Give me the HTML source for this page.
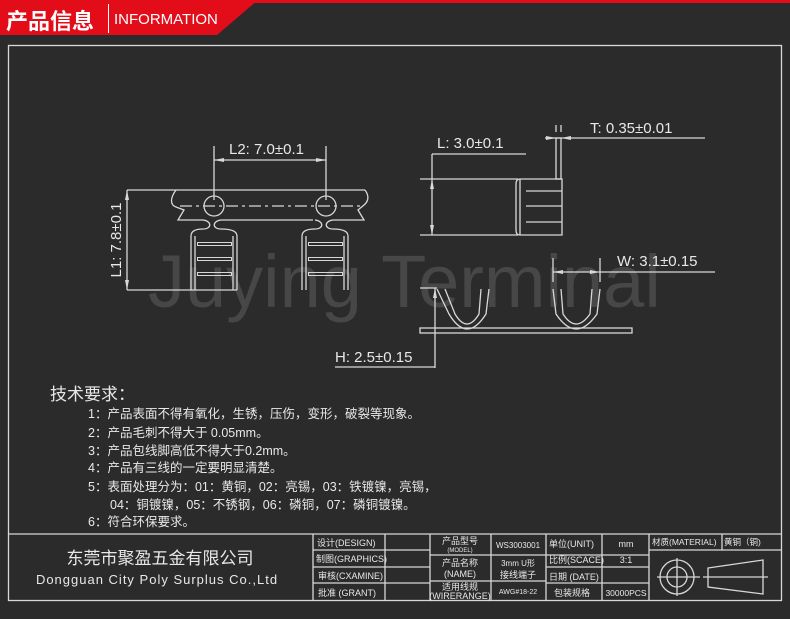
<!DOCTYPE html>
<html><head><meta charset="utf-8"><style>
html,body{margin:0;padding:0;background:#2b2b2b;}
svg{display:block}
text{font-family:"Liberation Sans","Noto Sans CJK SC",sans-serif;fill:#e8e8e8}
</style></head><body>
<svg width="790" height="619" viewBox="0 0 790 619" xmlns="http://www.w3.org/2000/svg">
<rect width="790" height="619" fill="#2b2b2b"/>
<text x="148" y="307" font-size="74" style="fill:#474747">Juying Terminal</text>
<rect x="0" y="0" width="790" height="3" fill="#e30d1a"/>
<polygon points="0,0 258,0 217,35 0,35" fill="#e30d1a"/>
<text x="6" y="29" font-size="22" font-weight="bold" style="fill:#fff">产品信息</text>
<rect x="108" y="4" width="1" height="29" fill="#fff"/>
<text x="114" y="24" font-size="15" style="fill:#fff">INFORMATION</text>
<g fill="none" stroke="#d8d8d8" stroke-width="1.3">
<rect x="8.5" y="45.5" width="773" height="555"/>
<line x1="214" y1="146" x2="214" y2="200"/><line x1="326" y1="146" x2="326" y2="200"/>
<line x1="214" y1="160" x2="326" y2="160"/>
<line x1="127" y1="190" x2="365" y2="190"/>
<path d="M176,190 C170,198 170,205 176,207 L184,210 L178,220 L203,220 M221,220 L313,220 M333,220 L364,220 L358,210 L364,205 C370,200 368,194 365,190"/>
<path d="M203,220 C212,221 212,229 203,229 Q191,229 191,236 L191,290 M221,220 C212,221 212,229 221,229 Q237,229 237,236 L237,290"/>
<path d="M315,220 C324,221 324,229 315,229 Q302,229 302,236 L302,290 M333,220 C324,221 324,229 333,229 Q348,229 348,236 L348,290"/>
<line x1="195" y1="236" x2="195" y2="290"/><line x1="233" y1="236" x2="233" y2="290"/>
<line x1="306" y1="236" x2="306" y2="290"/><line x1="344" y1="236" x2="344" y2="290"/>
<circle cx="214" cy="206" r="10"/><circle cx="326" cy="206" r="10"/>
<line x1="180" y1="206" x2="360" y2="206" stroke-dasharray="12 4 3 4"/>
<line x1="127" y1="290" x2="237" y2="290"/>
<line x1="127" y1="190" x2="127" y2="290"/>
<g stroke-width="1">
<rect x="197.5" y="242.5" width="34" height="3"/><rect x="197.5" y="257.5" width="34" height="3"/><rect x="197.5" y="272.5" width="34" height="3"/>
<rect x="308.5" y="242.5" width="34" height="3"/><rect x="308.5" y="257.5" width="34" height="3"/><rect x="308.5" y="272.5" width="34" height="3"/>
</g>
<line x1="555" y1="138" x2="705" y2="138"/>
<line x1="545" y1="138" x2="555" y2="138"/>
<line x1="432" y1="154" x2="526" y2="154"/>
<line x1="432" y1="154" x2="432" y2="235"/>
<line x1="420" y1="179" x2="518" y2="179"/><line x1="420" y1="235" x2="518" y2="235"/>
<rect x="556" y="138" width="5" height="41"/>
<path d="M520,179 L562,179 L562,235 L520,235 Q516,235 516,230 L516,184 Q516,179 520,179 Z"/>
<line x1="520" y1="179" x2="520" y2="235"/>
<line x1="526" y1="191" x2="562" y2="191"/><line x1="526" y1="206" x2="562" y2="206"/><line x1="526" y1="222" x2="562" y2="222"/>
<line x1="556" y1="125" x2="556" y2="132"/><line x1="561" y1="125" x2="561" y2="132"/>
<rect x="420" y="328" width="212" height="5"/>
<path d="M437,289 L449,314 Q467,344 486,314 L489,289 M445,289 L455,314 Q467,334 479,314 L481,289"/>
<path d="M553,289 L556,314 Q576,344 597,314 L600,289 M561,289 L563,314 Q576,334 590,314 L592,289"/>
<line x1="553" y1="258" x2="553" y2="282"/><line x1="600" y1="258" x2="600" y2="282"/>
<line x1="553" y1="272" x2="715" y2="272"/>
<line x1="420" y1="288" x2="437" y2="288"/>
<line x1="435" y1="288" x2="435" y2="368"/>
<line x1="335" y1="367" x2="435" y2="367"/>
<line x1="8" y1="534" x2="782" y2="534"/>
<line x1="313" y1="534" x2="313" y2="600"/><line x1="385" y1="534" x2="385" y2="600"/>
<line x1="430" y1="534" x2="430" y2="600"/><line x1="491" y1="534" x2="491" y2="600"/>
<line x1="546" y1="534" x2="546" y2="600"/><line x1="602" y1="534" x2="602" y2="600"/>
<line x1="649" y1="534" x2="649" y2="600"/><line x1="722" y1="534" x2="722" y2="550"/>
<line x1="313" y1="550" x2="430" y2="550"/><line x1="313" y1="567" x2="430" y2="567"/><line x1="313" y1="583" x2="430" y2="583"/>
<line x1="430" y1="555" x2="546" y2="555"/><line x1="430" y1="581" x2="546" y2="581"/>
<line x1="546" y1="555" x2="649" y2="555"/><line x1="546" y1="567" x2="649" y2="567"/><line x1="546" y1="583" x2="649" y2="583"/>
<line x1="649" y1="550" x2="782" y2="550"/>
<circle cx="677" cy="577" r="17"/><circle cx="677" cy="577" r="10"/>
<line x1="657" y1="577" x2="700" y2="577"/><line x1="677" y1="558" x2="677" y2="596"/>
<path d="M708,568 L763,560 L763,594 L708,587 Z"/><line x1="703" y1="577" x2="768" y2="577"/>
</g>
<g fill="#d8d8d8">
<polygon points="214,160 224,158 224,162"/><polygon points="326,160 316,158 316,162"/>
<polygon points="127,190 125,200 129,200"/><polygon points="127,290 125,280 129,280"/>
<polygon points="432,179 430,189 434,189"/><polygon points="432,235 430,225 434,225"/>
<polygon points="553,272 563,270 563,274"/><polygon points="600,272 590,270 590,274"/>
<polygon points="435,288 433,298 437,298"/><polygon points="556,138 546,136 546,140"/><polygon points="561,138 571,136 571,140"/>
</g>
<text x="229" y="154" font-size="15">L2: 7.0±0.1</text>
<text transform="translate(121,240) rotate(-90)" text-anchor="middle" font-size="15">L1: 7.8±0.1</text>
<text x="590" y="133" font-size="15">T:  0.35±0.01</text>
<text x="437" y="148" font-size="15">L:  3.0±0.1</text>
<text x="617" y="266" font-size="15">W: 3.1±0.15</text>
<text x="335" y="362" font-size="15">H: 2.5±0.15</text>
<text x="50" y="400" font-size="17">技术要求：</text>
<g font-size="12.5">
<text x="88" y="418">1：产品表面不得有氧化，生锈，压伤，变形，破裂等现象。</text>
<text x="88" y="437">2：产品毛刺不得大于 0.05mm。</text>
<text x="88" y="455">3：产品包线脚高低不得大于0.2mm。</text>
<text x="88" y="472">4：产品有三线的一定要明显清楚。</text>
<text x="88" y="491">5：表面处理分为：01：黄铜，02：亮锡，03：铁镀镍，亮锡，</text>
<text x="110" y="509">04：铜镀镍，05：不锈钢，06：磷铜，07：磷铜镀镍。</text>
<text x="88" y="526">6：符合环保要求。</text>
</g>
<text x="160" y="564" font-size="17" text-anchor="middle">东莞市聚盈五金有限公司</text>
<text x="157" y="584" font-size="13" text-anchor="middle" letter-spacing="1">Dongguan City Poly Surplus Co.,Ltd</text>
<g font-size="9">
<text x="317" y="546">设计(DESIGN)</text>
<text x="316" y="562">制图(GRAPHICS)</text>
<text x="318" y="579">审核(CXAMINE)</text>
<text x="318" y="596">批准 (GRANT)</text>
<text x="460" y="544" text-anchor="middle">产品型号</text>
<text x="460" y="552" text-anchor="middle" font-size="6">(MODEL)</text>
<text x="460" y="566" text-anchor="middle">产品名称</text>
<text x="460" y="577" text-anchor="middle">(NAME)</text>
<text x="460" y="590" text-anchor="middle">适用线规</text>
<text x="460" y="599" text-anchor="middle">(WIRERANGE)</text>
<text x="518" y="548" text-anchor="middle" font-size="8">WS3003001</text>
<text x="518" y="566" text-anchor="middle" font-size="8">3mm U形</text>
<text x="518" y="578" text-anchor="middle">接线端子</text>
<text x="518" y="594" text-anchor="middle" font-size="7">AWG#18-22</text>
<text x="549" y="547">单位(UNIT)</text>
<text x="549" y="563">比例(SCACE)</text>
<text x="549" y="580">日期 (DATE)</text>
<text x="554" y="596">包装规格</text>
<text x="626" y="547" text-anchor="middle">mm</text>
<text x="626" y="563" text-anchor="middle">3:1</text>
<text x="626" y="596" text-anchor="middle" font-size="8.5">30000PCS</text>
<text x="652" y="545" font-size="8.5">材质(MATERIAL)</text>
<text x="724" y="545" font-size="8.5">黄铜（铜)</text>
</g>
</svg>
</body></html>
